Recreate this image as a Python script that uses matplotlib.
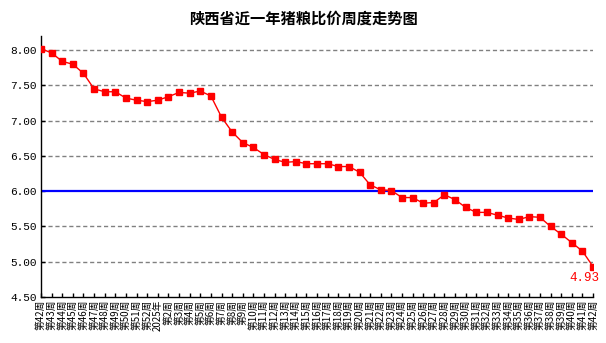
import numpy as np
import matplotlib
matplotlib.use("Agg")
import matplotlib.pyplot as plt

plt.rcParams['font.family'] = ['Noto Sans CJK SC', 'DejaVu Sans']

# week labels: 2024 wk42..52, 2025年, wk2..42
labels = ["第%d周" % w for w in range(42, 53)] + ["2025年"] + ["第%d周" % w for w in range(2, 43)]

ratio = [8.02, 7.96, 7.84, 7.80, 7.67, 7.45, 7.41, 7.41, 7.32, 7.29,
         7.27, 7.29, 7.34, 7.40, 7.39, 7.42, 7.35, 7.05, 6.84, 6.69,
         6.62, 6.52, 6.45, 6.41, 6.42, 6.39, 6.39, 6.39, 6.35, 6.35,
         6.27, 6.09, 6.02, 6.01, 5.91, 5.91, 5.83, 5.84, 5.95, 5.88,
         5.77, 5.70, 5.70, 5.66, 5.62, 5.60, 5.64, 5.63, 5.50, 5.39,
         5.27, 5.15, 4.93]

baseline = 6.0
yticks = [4.5, 5.0, 5.5, 6.0, 6.5, 7.0, 7.5, 8.0]

fig = plt.figure(figsize=(6.06, 3.43), dpi=100)
ax = fig.add_axes([0.0677, 0.134, 0.911, 0.761])

x = np.arange(len(ratio))

# dashed grid (6.00 is drawn as the blue line instead)
for yv in yticks[1:]:
    if yv != baseline:
        ax.axhline(yv, color='#808080', lw=1, ls=(0, (3, 2)), zorder=1)
ax.axhline(baseline, color='#0000ff', lw=1.6, zorder=2)

ax.plot(x, ratio, color='red', lw=1, marker='s', ms=3.8, zorder=3)
ax.text(x[-1] + 0.6, ratio[-1] - 0.08, "%.2f" % ratio[-1], color='red',
        fontsize=9, family='Liberation Mono', ha='right', va='top')

ax.set_xlim(0, len(ratio) - 1)
ax.set_ylim(4.5, 8.2)
ax.set_yticks(yticks)
ax.set_yticklabels(["%.2f" % v for v in yticks], family='Liberation Mono', fontsize=8)
ax.set_xticks(x)
ax.set_xticklabels(labels, rotation=90, fontsize=7)
ax.tick_params(axis='both', direction='in', length=3, width=1, pad=3)
ax.tick_params(axis='x', pad=2)

for s in ['top', 'right']:
    ax.spines[s].set_visible(False)
ax.spines['left'].set_linewidth(1)
ax.spines['bottom'].set_linewidth(1)

fig.text(0.5, 0.945, "陕西省近一年猪粮比价周度走势图", ha='center', va='center',
         fontsize=11, fontweight='bold')

fig.savefig("out.png", dpi=100)
